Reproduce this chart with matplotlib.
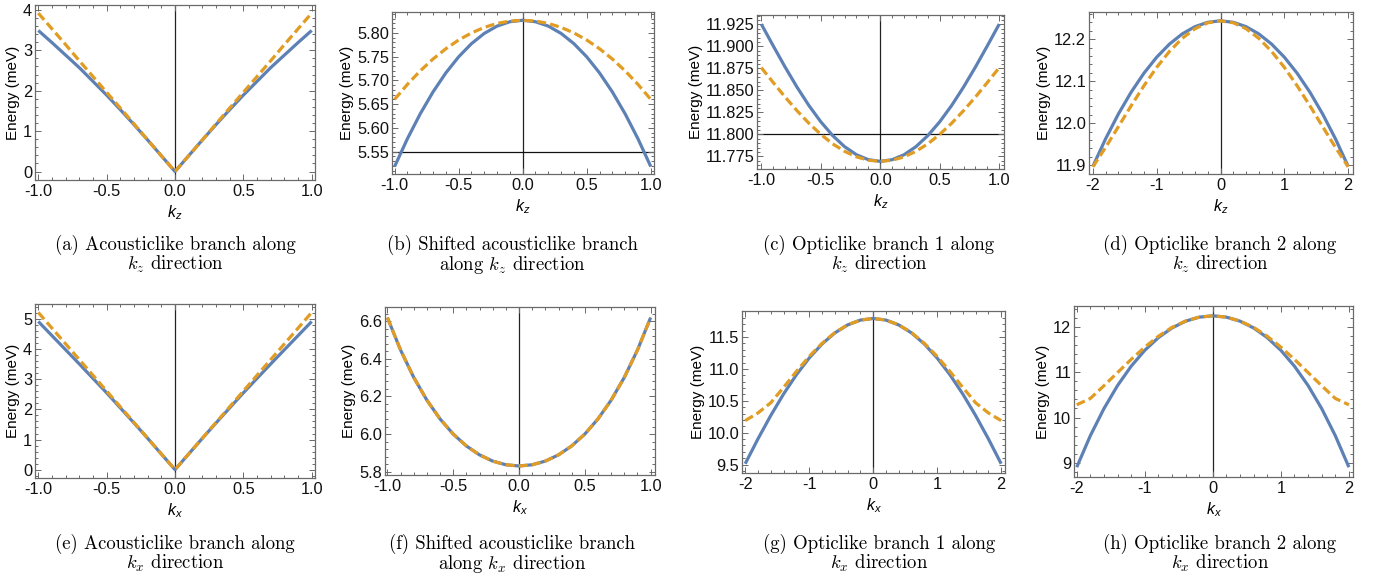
import matplotlib
matplotlib.use('Agg')
import matplotlib.pyplot as plt
from matplotlib.ticker import AutoMinorLocator, MultipleLocator, FormatStrFormatter

plt.rcParams['font.family'] = ['Liberation Sans', 'DejaVu Sans']
plt.rcParams['mathtext.fontset'] = 'custom'
plt.rcParams['mathtext.it'] = 'Liberation Sans:italic'
plt.rcParams['mathtext.rm'] = 'Liberation Sans'

# ---------------- data ----------------
k1 = [-1.0, -0.9, -0.8, -0.7, -0.6, -0.5, -0.4, -0.3, -0.2, -0.1, 0.0,
      0.1, 0.2, 0.3, 0.4, 0.5, 0.6, 0.7, 0.8, 0.9, 1.0]
k2 = [-2.0, -1.8, -1.6, -1.4, -1.2, -1.0, -0.8, -0.6, -0.4, -0.2, 0.0,
      0.2, 0.4, 0.6, 0.8, 1.0, 1.2, 1.4, 1.6, 1.8, 2.0]

a_blue = [3.49, 3.19, 2.88, 2.57, 2.23, 1.89, 1.53, 1.16, 0.78, 0.39, 0.0,
          0.39, 0.78, 1.16, 1.53, 1.89, 2.23, 2.57, 2.88, 3.19, 3.49]
a_orange = [3.92, 3.53, 3.14, 2.74, 2.35, 1.96, 1.57, 1.18, 0.78, 0.39, 0.0,
            0.39, 0.78, 1.18, 1.57, 1.96, 2.35, 2.74, 3.14, 3.53, 3.92]

b_blue = [5.5186, 5.5771, 5.6295, 5.6757, 5.7157, 5.7496, 5.7773, 5.7989, 5.8143, 5.8235, 5.8266,
          5.8235, 5.8143, 5.7989, 5.7773, 5.7496, 5.7157, 5.6757, 5.6295, 5.5771, 5.5186]
b_orange = [5.6600, 5.6916, 5.7200, 5.7450, 5.7666, 5.7850, 5.7999, 5.8116, 5.8199, 5.8249, 5.8266,
            5.8249, 5.8199, 5.8116, 5.7999, 5.7850, 5.7666, 5.7450, 5.7200, 5.6916, 5.6600]

c_blue = [11.9253, 11.9006, 11.8765, 11.8537, 11.8328, 11.8143, 11.7986, 11.7860, 11.7768, 11.7712, 11.7693,
          11.7712, 11.7768, 11.7860, 11.7986, 11.8143, 11.8328, 11.8537, 11.8765, 11.9006, 11.9253]
c_orange = [11.8758, 11.8589, 11.8424, 11.8269, 11.8126, 11.8000, 11.7892, 11.7807, 11.7744, 11.7706, 11.7693,
            11.7706, 11.7744, 11.7807, 11.7892, 11.8000, 11.8126, 11.8269, 11.8424, 11.8589, 11.8758]

d_blue = [11.897, 11.9629, 12.0219, 12.0740, 12.1191, 12.1573, 12.1885, 12.2128, 12.2301, 12.2405, 12.244,
          12.2405, 12.2301, 12.2128, 12.1885, 12.1573, 12.1191, 12.0740, 12.0219, 11.9629, 11.897]
d_orange = [11.896, 11.9424, 11.9918, 12.0415, 12.0892, 12.133, 12.1711, 12.2022, 12.2252, 12.2393, 12.244,
            12.2393, 12.2252, 12.2022, 12.1711, 12.133, 12.0892, 12.0415, 11.9918, 11.9424, 11.896]

e_blue = [4.92, 4.45, 3.98, 3.51, 3.03, 2.55, 2.05, 1.55, 1.04, 0.52, 0.0,
          0.52, 1.04, 1.55, 2.05, 2.55, 3.03, 3.51, 3.98, 4.45, 4.92]
e_orange = [5.22, 4.698, 4.176, 3.654, 3.132, 2.61, 2.088, 1.566, 1.044, 0.522, 0.0,
            0.522, 1.044, 1.566, 2.088, 2.61, 3.132, 3.654, 4.176, 4.698, 5.22]

f_blue = [6.620, 6.4473, 6.3017, 6.1804, 6.0805, 5.9999, 5.9366, 5.8891, 5.8560, 5.8364, 5.830,
          5.8364, 5.8560, 5.8891, 5.9366, 5.9999, 6.0805, 6.1804, 6.3017, 6.4473, 6.620]
f_orange = [6.620, 6.4473, 6.3017, 6.1804, 6.0805, 5.9999, 5.9366, 5.8891, 5.8560, 5.8364, 5.830,
            5.8364, 5.8560, 5.8891, 5.9366, 5.9999, 6.0805, 6.1804, 6.3017, 6.4473, 6.620]

g_blue = [9.514, 9.9046, 10.2707, 10.6068, 10.908, 11.170, 11.3893, 11.5629, 11.6885, 11.7646, 11.79,
          11.7646, 11.6885, 11.5629, 11.3893, 11.170, 10.908, 10.6068, 10.2707, 9.9046, 9.514]
g_orange = [10.19, 10.31, 10.47, 10.71, 10.96, 11.195, 11.400, 11.567, 11.690, 11.765, 11.79,
            11.765, 11.690, 11.567, 11.400, 11.195, 10.96, 10.71, 10.47, 10.31, 10.19]

h_blue = [8.906, 9.5998, 10.1966, 10.7043, 11.1301, 11.480, 11.7592, 11.9720, 12.1217, 12.2105, 12.24,
          12.2105, 12.1217, 11.9720, 11.7592, 11.480, 11.1301, 10.7043, 10.1966, 9.5998, 8.906]
h_orange = [10.28, 10.42, 10.70, 10.99, 11.28, 11.55, 11.79, 11.985, 12.125, 12.211, 12.24,
            12.211, 12.125, 11.985, 11.79, 11.55, 11.28, 10.99, 10.70, 10.42, 10.28]

captions = [
    ("(a) Acousticlike branch along", r"$k_z$ direction"),
    ("(b) Shifted acousticlike branch", r"along $k_z$ direction"),
    ("(c) Opticlike branch 1 along", r"$k_z$ direction"),
    ("(d) Opticlike branch 2 along", r"$k_z$ direction"),
    ("(e) Acousticlike branch along", r"$k_x$ direction"),
    ("(f) Shifted acousticlike branch", r"along $k_x$ direction"),
    ("(g) Opticlike branch 1 along", r"$k_x$ direction"),
    ("(h) Opticlike branch 2 along", r"$k_x$ direction"),
]
xlabels = [r"$k_z$"] * 4 + [r"$k_x$"] * 4
axis_y = [None, 5.55, 11.80, None, None, None, None, None]

# ---------------- layout / style ----------------
W, H = 1374, 579
BLUE = '#5E81B5'
ORANGE = '#E19C24'
FRAME = '#6a6a6a'

# (k, blue, orange, pixel box (x0,y0,x1,y1), xlim, ylim, xstep, xfmt, ystep, yfmt)
panels = [
    (k1, a_blue, a_orange, (35, 5, 315, 180), (-1.024, 1.024), (-0.21, 4.12), 0.5, '%.1f', 1, '%d'),
    (k1, b_blue, b_orange, (392, 12, 654, 174), (-1.02, 1.025), (5.503, 5.844), 0.5, '%.1f', 0.05, '%.2f'),
    (k1, c_blue, c_orange, (757, 15, 1004, 169), (-1.036, 1.04), (11.7606, 11.9356), 0.5, '%.1f', 0.025, '%.3f'),
    (k2, d_blue, d_orange, (1089, 12, 1353, 174), (-2.06, 2.075), (11.879, 12.265), 1, '%d', 0.1, '%.1f'),
    (k1, e_blue, e_orange, (35, 304, 315, 478), (-1.024, 1.024), (-0.277, 5.50), 0.5, '%.1f', 1, '%d'),
    (k1, f_blue, f_orange, (385, 307, 655, 475), (-1.018, 1.033), (5.782, 6.676), 0.5, '%.1f', 0.2, '%.1f'),
    (k2, g_blue, g_orange, (742, 311, 1005, 473), (-2.05, 2.06), (9.369, 11.907), 1, '%d', 0.5, '%.1f'),
    (k2, h_blue, h_orange, (1074, 306, 1353, 477), (-2.04, 2.06), (8.69, 12.456), 1, '%d', 1, '%d'),
]
cap_x = [175, 512, 879, 1220, 175, 512, 879, 1220]
cap_y = [(250, 270)] * 4 + [(549, 569)] * 4

fig = plt.figure(figsize=(W / 100, H / 100), dpi=100)

for i, (k, yb, yo, box, xl, yl, xs, xf, ys, yf) in enumerate(panels):
    x0, y0, x1, y1 = box
    ax = fig.add_axes([x0 / W, 1 - y1 / H, (x1 - x0) / W, (y1 - y0) / H])
    ax.axvline(0, color='#222222', lw=0.9, zorder=1)
    if axis_y[i] is not None:
        ax.axhline(axis_y[i], color='#111111', lw=0.9, zorder=1)
    ax.plot(k, yb, color=BLUE, lw=2.3, solid_capstyle='butt', zorder=3)
    ax.plot(k, yo, color=ORANGE, lw=2.3, linestyle=(0, (2.8, 1.3)), zorder=4)
    ax.set_xlim(*xl)
    ax.set_ylim(*yl)
    ax.xaxis.set_major_locator(MultipleLocator(xs))
    ax.yaxis.set_major_locator(MultipleLocator(ys))
    ax.xaxis.set_major_formatter(FormatStrFormatter(xf))
    ax.yaxis.set_major_formatter(FormatStrFormatter(yf))
    ax.xaxis.set_minor_locator(AutoMinorLocator(5))
    ax.yaxis.set_minor_locator(AutoMinorLocator(5))
    ax.tick_params(which='both', direction='in', top=True, right=True,
                   color=FRAME, width=0.7, labelsize=11.8, labelcolor='#111111')
    ax.tick_params(which='major', length=4)
    ax.tick_params(which='minor', length=2)
    ax.tick_params(axis='y', pad=2)
    ax.tick_params(axis='x', pad=3)
    for s in ax.spines.values():
        s.set_color(FRAME)
        s.set_linewidth(0.9)
    ax.set_ylabel('Energy (meV)', fontsize=11, labelpad=2)
    ax.set_xlabel(xlabels[i], fontsize=11.5, labelpad=3, math_fontfamily='custom')

    l1, l2 = captions[i]
    fig.text(cap_x[i] / W, 1 - cap_y[i][0] / H, l1, ha='center', va='baseline',
             family='cmr10', math_fontfamily='cm', fontsize=13.5)
    fig.text(cap_x[i] / W, 1 - cap_y[i][1] / H, l2, ha='center', va='baseline',
             family='cmr10', math_fontfamily='cm', fontsize=13.5)

fig.savefig('out.png', dpi=100)
